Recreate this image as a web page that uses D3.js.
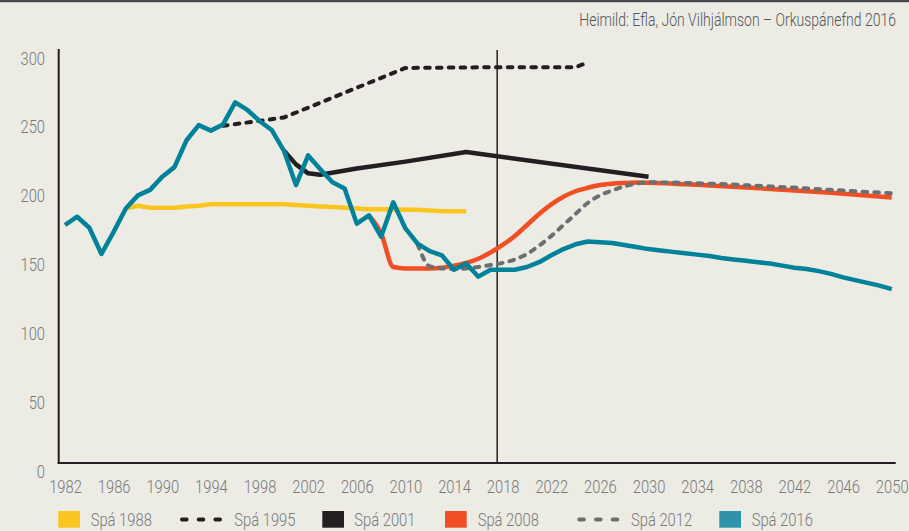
<!DOCTYPE html>
<html>
<head>
<meta charset="utf-8">
<script src="https://cdn.jsdelivr.net/npm/d3@7"></script>
<style>
  html, body { margin: 0; padding: 0; background: #ECEBE4; }
  svg { display: block; }
  text { font-family: Roboto, "Open Sans", sans-serif; font-weight: 300; }
</style>
</head>
<body>
<svg id="chart" width="909" height="531"></svg>
<script>
// ---------- DATA ----------
const xTicks = [1982,1986,1990,1994,1998,2002,2006,2010,2014,2018,2022,2026,2030,2034,2038,2042,2046,2050];
const yTicks = [0,50,100,150,200,250,300];

const spa1988Years  = [1987,1988,1989,1990,1991,1992,1993,1994,1996,1998,2000,2001,2002,2003,2004,2005,2006,2007,2008,2009,2010,2011,2012,2013,2014,2015];
const spa1988Values = [191,193,191.5,191.5,191.5,192.5,193,194,194,194,194,193.5,193,192.5,192,191.5,191,190.5,190.5,190.3,190,190,189.5,189,189,189];

const spa1995Years  = [1995,2000,2010,2017,2024,2025];
const spa1995Values = [251,257,293,293.5,293.5,297];

const spa2001Years  = [2000,2001,2002,2003,2006,2010,2015,2030];
const spa2001Values = [233,223,216.5,215.5,220,225,232,214];

const spa2008Years  = [2007,2008,2009,2010,2011,2012,2013,2014,2015,2016,2017,2018,2019,2020,2021,2022,2023,2024,2025,2026,2027,2028,2029,2030,2035,2040,2045,2050];
const spa2008Values = [186,173,148.5,147.5,147.5,147.5,148,149.5,151.5,154.5,159,164.5,171,179,187,194,199.5,203.5,206,208,209,209.5,209.8,209.7,207.6,205.2,202.4,199];

const spa2012Years  = [2011,2012,2013,2014,2015,2016,2017,2018,2019,2020,2021,2022,2023,2024,2025,2026,2027,2028,2029,2030,2035,2040,2045,2050];
const spa2012Values = [165,149,147.5,147,147.5,148.5,150,151.5,154,158,164,171,179,187,195,200.5,204,207,209,210,209,207,204.5,202];

const spa2016Years  = d3.range(1982, 2051);
const spa2016Values = [179,185,177,158,174,191,200.5,204.5,214,221,240.5,251.5,247.5,252,268,262.5,254.5,248,233,208,229.5,219.5,210,205.5,180,186,170.5,195.5,176.5,165.5,160,157,146.5,151,141.5,146.5,
  146.5,146.5,148.5,152,157,161.5,165,167,166.5,166,164.5,163,161.5,160.5,159.5,158.5,157.5,156.5,155,154,153,152,151,149.5,148,147,145.5,143.5,141,139,137,135,132.5];

const seriesNames  = ["Spá 1988","Spá 1995","Spá 2001","Spá 2008","Spá 2012","Spá 2016"];
const seriesColors = ["#FBC520","#231F20","#231F20","#F04E23","#6D6E70","#00829B"];
const legendColors = ["#FBC520","#231F20","#231F20","#F04E23","#6D6E70","#2E93A9"];
const seriesDashed = [false,true,false,false,true,false];
const seriesCurve  = ["linear","linear","linear","monotone","monotone","linear"];
const sourceText = "Heimild: Efla, Jón Vilhjálmson – Orkuspánefnd 2016";
const dividerYear = 2017.55;

// ---------- LAYOUT ----------
const svg = d3.select("#chart");
const W = 909, H = 531;
const SX = 0.82; // horizontal condensing of the font
const x = d3.scaleLinear().domain([1982, 2050]).range([65, 891.7]);
const y = d3.scaleLinear().domain([0, 300]).range([471.6, 58.3]);
const axisBottomY = 463;
const axisLeftX = 58.7;
const plotTop = 49;

svg.append("rect").attr("width", W).attr("height", H).attr("fill", "#ECEBE4");
svg.append("rect").attr("x", 0).attr("y", 0).attr("width", W).attr("height", 2.2).attr("fill", "#4a4a4a");

// source
svg.append("text")
  .attr("transform", `translate(896,26) scale(0.8,1)`)
  .attr("text-anchor", "end")
  .attr("font-size", 17.5)
  .attr("fill", "#555")
  .text(sourceText);

// y axis labels
const gy = svg.append("g").attr("transform", "translate(45,0)")
  .call(d3.axisLeft(y).tickValues(yTicks).tickSize(0).tickPadding(0));
gy.select(".domain").remove();
gy.selectAll("text")
  .attr("x", 0)
  .attr("transform", `scale(${SX},1)`)
  .attr("font-size", 18).attr("font-family", null).attr("fill", "#7a7a7a");

// x axis labels
const gx = svg.append("g").attr("transform", "translate(0,480.5)")
  .call(d3.axisBottom(x).tickValues(xTicks).tickFormat(d3.format("d")).tickSize(0).tickPadding(0));
gx.select(".domain").remove();
gx.selectAll("text")
  .attr("transform", `scale(${SX},1)`)
  .attr("font-size", 18).attr("font-family", null).attr("fill", "#7a7a7a");

// axis lines
svg.append("line").attr("x1", axisLeftX).attr("x2", axisLeftX).attr("y1", plotTop).attr("y2", axisBottomY + 1)
  .attr("stroke", "#231F20").attr("stroke-width", 2);
svg.append("line").attr("x1", axisLeftX - 1).attr("x2", x(2050) + 4).attr("y1", axisBottomY).attr("y2", axisBottomY)
  .attr("stroke", "#231F20").attr("stroke-width", 2);

// divider
svg.append("line").attr("x1", x(dividerYear)).attr("x2", x(dividerYear)).attr("y1", plotTop + 1).attr("y2", axisBottomY)
  .attr("stroke", "#231F20").attr("stroke-width", 1.5);

// series
const allYears = [spa1988Years, spa1995Years, spa2001Years, spa2008Years, spa2012Years, spa2016Years];
const allValues = [spa1988Values, spa1995Values, spa2001Values, spa2008Values, spa2012Values, spa2016Values];
const drawOrder = [0, 1, 2, 3, 4, 5];

drawOrder.forEach(i => {
  const pts = allYears[i].map((yr, k) => [yr, allValues[i][k]]);
  const line = d3.line()
    .x(d => x(d[0])).y(d => y(d[1]))
    .curve(seriesCurve[i] === "monotone" ? d3.curveMonotoneX : d3.curveLinear);
  const p = svg.append("path")
    .attr("d", line(pts))
    .attr("fill", "none")
    .attr("stroke", seriesColors[i])
    .attr("stroke-width", seriesDashed[i] ? 4 : 4.5)
    .attr("stroke-linejoin", "round")
    .attr("stroke-linecap", seriesDashed[i] ? "round" : "butt");
  if (seriesDashed[i]) p.attr("stroke-dasharray", "4.6,7.2");
});

// legend
const legendItemX = [58.3, 180, 322.3, 445, 577.3, 719.3];
const legendTextX = [90.7, 234.3, 354.3, 477.7, 631, 751.7];
const legendY = 519.5;
seriesNames.forEach((name, i) => {
  if (seriesDashed[i]) {
    svg.append("line")
      .attr("x1", legendItemX[i] + 2).attr("x2", legendItemX[i] + 46)
      .attr("y1", legendY).attr("y2", legendY)
      .attr("stroke", legendColors[i]).attr("stroke-width", 4)
      .attr("stroke-linecap", "round").attr("stroke-dasharray", "4.6,12.1");
  } else {
    svg.append("rect")
      .attr("x", legendItemX[i]).attr("y", legendY - 8.5)
      .attr("width", 21.7).attr("height", 16.7)
      .attr("fill", legendColors[i]);
  }
  svg.append("text")
    .attr("transform", `translate(${legendTextX[i]},${legendY + 6.4}) scale(${SX},1)`)
    .attr("font-size", 18).attr("fill", "#7a7a7a")
    .text(name);
});
</script>
</body>
</html>
